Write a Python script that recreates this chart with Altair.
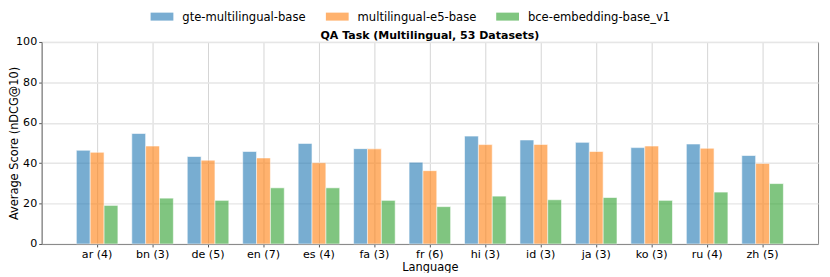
import altair as alt
import pandas as pd

languages = ["ar (4)", "bn (3)", "de (5)", "en (7)", "es (4)", "fa (3)", "fr (6)",
             "hi (3)", "id (3)", "ja (3)", "ko (3)", "ru (4)", "zh (5)"]
models = ["gte-multilingual-base", "multilingual-e5-base", "bce-embedding-base_v1"]
gte = [46.4, 54.7, 43.3, 45.8, 49.8, 47.2, 40.5, 53.4, 51.5, 50.3, 47.7, 49.5, 43.8]
e5 = [45.4, 48.5, 41.5, 42.6, 40.2, 47.1, 36.3, 49.2, 49.3, 45.8, 48.5, 47.4, 39.9]
bce = [19.1, 22.7, 21.6, 27.8, 27.8, 21.6, 18.5, 23.7, 21.9, 23.0, 21.6, 25.7, 29.9]
colors = ["#1f77b4", "#ff7f0e", "#2ca02c"]
title_text = ["QA Task (Multilingual, 53 Datasets)"]

rows = []
for m, vals in zip(models, [gte, e5, bce]):
    for lang, v in zip(languages, vals):
        rows.append({"Language": lang, "Model": m, "Score": v})
df = pd.DataFrame(rows)

FONT = "DejaVu Sans"

bars = alt.Chart(df).mark_bar(
    opacity=0.6, stroke="white", strokeWidth=0.6, strokeOpacity=1
).encode(
    x=alt.X("Language:N", sort=languages,
            scale=alt.Scale(paddingInner=0, paddingOuter=0.5),
            axis=alt.Axis(title="Language", labelAngle=0, grid=True,
                          gridColor="#d4d4d4", gridWidth=1,
                          bandPosition=0.5, tickSize=3, tickColor="#555",
                          labelPadding=2, titlePadding=2)),
    xOffset=alt.XOffset("Model:N", sort=models,
                        scale=alt.Scale(paddingInner=0, paddingOuter=0.5)),
    y=alt.Y("Score:Q", scale=alt.Scale(domain=[0, 100], nice=False),
            axis=alt.Axis(title="Average Score (nDCG@10)", values=[0, 20, 40, 60, 80, 100],
                          grid=True, gridColor="#e6e6e6", gridWidth=1.5,
                          tickSize=3, tickColor="#555", labelPadding=2,
                          titleX=-27, titleBaseline="middle", titleFontSize=11.5)),
    color=alt.Color("Model:N", sort=models,
                    scale=alt.Scale(domain=models, range=colors),
                    legend=alt.Legend(title=None, orient="none", direction="horizontal",
                                      legendX=110, legendY=-37.5,
                                      symbolType="M-1,-0.35H1V0.35H-1Z", symbolSize=529,
                                      symbolOpacity=0.6, symbolStrokeWidth=0,
                                      labelOffset=9, columnPadding=20, padding=0,
                                      labelFont=FONT, labelFontSize=11.7, labelColor="black")),
)

title = alt.Chart(pd.DataFrame({"t": title_text})).mark_text(
    font=FONT, fontSize=11.1, fontWeight="bold", color="black",
    align="center", baseline="middle"
).encode(text="t:N", x=alt.value(392), y=alt.value(-6))

chart = alt.layer(bars, title).properties(
    width=784, height=204,
    autosize=alt.AutoSizeParams(type="none"),
    padding={"left": 34, "top": 33, "right": 4, "bottom": 28},
).configure_view(
    stroke="#888", strokeWidth=1
).configure_axis(
    labelFont=FONT, titleFont=FONT, labelFontSize=11.2, titleFontSize=11.5,
    labelColor="black", titleColor="black", titleFontWeight="normal",
    domainColor="#888", domainWidth=1
)

chart.save("out.html", embed_options={"renderer": "svg", "actions": False})
